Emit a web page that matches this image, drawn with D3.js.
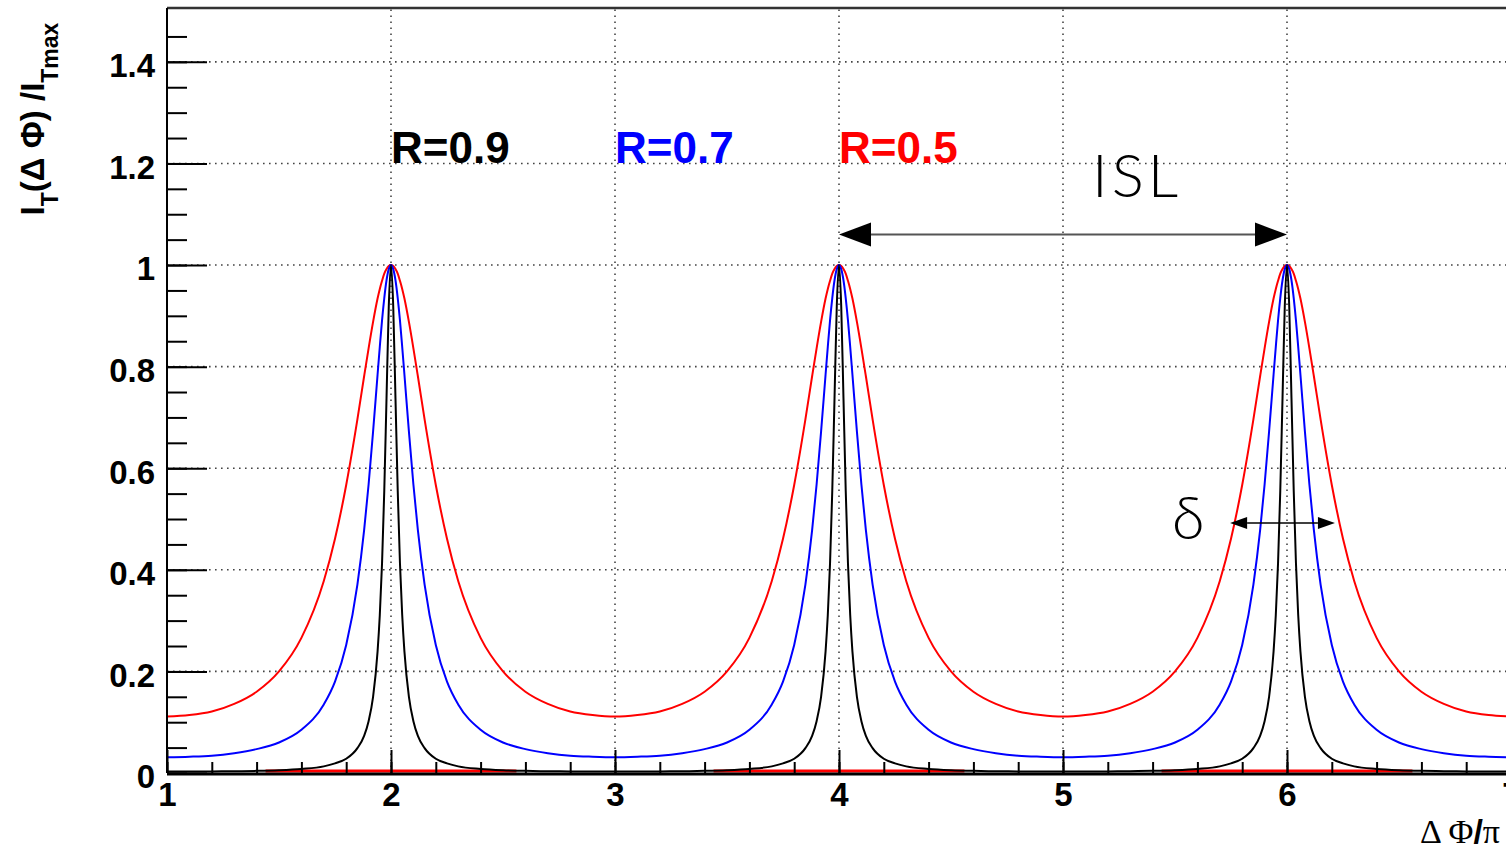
<!DOCTYPE html>
<html>
<head>
<meta charset="utf-8">
<script src="https://cdn.jsdelivr.net/npm/d3@7"></script>
<style>
body { margin: 0; background: #fff; }
svg { display: block; }
</style>
</head>
<body>
<svg id="chart" width="1506" height="853"></svg>
<script>
var width = 1506, height = 853;

// x positions shared by all three curves (Delta Phi / pi)
var xGrid = [
1, 1.1, 1.2, 1.3, 1.4, 1.5, 1.6, 1.7, 1.75, 1.8, 1.85, 1.88, 1.9, 1.92, 1.94, 1.95, 1.96, 1.97, 1.98, 1.99,
2, 2.01, 2.02, 2.03, 2.04, 2.05, 2.06, 2.08, 2.1, 2.12, 2.15, 2.2, 2.25, 2.3, 2.4, 2.5, 2.6, 2.7, 2.8, 2.9,
3, 3.1, 3.2, 3.3, 3.4, 3.5, 3.6, 3.7, 3.75, 3.8, 3.85, 3.88, 3.9, 3.92, 3.94, 3.95, 3.96, 3.97, 3.98, 3.99,
4, 4.01, 4.02, 4.03, 4.04, 4.05, 4.06, 4.08, 4.1, 4.12, 4.15, 4.2, 4.25, 4.3, 4.4, 4.5, 4.6, 4.7, 4.8, 4.9,
5, 5.1, 5.2, 5.3, 5.4, 5.5, 5.6, 5.7, 5.75, 5.8, 5.85, 5.88, 5.9, 5.92, 5.94, 5.95, 5.96, 5.97, 5.98, 5.99,
6, 6.01, 6.02, 6.03, 6.04, 6.05, 6.06, 6.08, 6.1, 6.12, 6.15, 6.2, 6.25, 6.3, 6.4, 6.5, 6.6, 6.7, 6.8, 6.9,
7];

// R = 0.9 (black)
var valuesR09 = [
.0028, .0028, .0031, .0035, .0042, .0055, .008, .013, .019, .028, .049, .073, .102, .150, .239, .311, .413, .556, .738, .918,
1, .918, .738, .556, .413, .311, .239, .150, .102, .073, .049, .028, .019, .013, .008, .0055, .0042, .0035, .0031, .0028,
.0028, .0028, .0031, .0035, .0042, .0055, .008, .013, .019, .028, .049, .073, .102, .150, .239, .311, .413, .556, .738, .918,
1, .918, .738, .556, .413, .311, .239, .150, .102, .073, .049, .028, .019, .013, .008, .0055, .0042, .0035, .0031, .0028,
.0028, .0028, .0031, .0035, .0042, .0055, .008, .013, .019, .028, .049, .073, .102, .150, .239, .311, .413, .556, .738, .918,
1, .918, .738, .556, .413, .311, .239, .150, .102, .073, .049, .028, .019, .013, .008, .0055, .0042, .0035, .0031, .0028,
.0028];

// R = 0.7 (blue)
var valuesR07 = [
.031, .032, .034, .039, .047, .060, .085, .135, .180, .252, .371, .478, .568, .672, .784, .839, .891, .935, .970, .992,
1, .992, .970, .935, .891, .839, .784, .672, .568, .478, .371, .252, .180, .135, .085, .060, .047, .039, .034, .032,
.031, .032, .034, .039, .047, .060, .085, .135, .180, .252, .371, .478, .568, .672, .784, .839, .891, .935, .970, .992,
1, .992, .970, .935, .891, .839, .784, .672, .568, .478, .371, .252, .180, .135, .085, .060, .047, .039, .034, .032,
.031, .032, .034, .039, .047, .060, .085, .135, .180, .252, .371, .478, .568, .672, .784, .839, .891, .935, .970, .992,
1, .992, .970, .935, .891, .839, .784, .672, .568, .478, .371, .252, .180, .135, .085, .060, .047, .039, .034, .032,
.031];

// R = 0.5 (red)
var valuesR05 = [
.111, .114, .121, .136, .160, .200, .266, .378, .461, .567, .696, .781, .836, .888, .934, .953, .969, .983, .992, .998,
1, .998, .992, .983, .969, .953, .934, .888, .836, .781, .696, .567, .461, .378, .266, .200, .160, .136, .121, .114,
.111, .114, .121, .136, .160, .200, .266, .378, .461, .567, .696, .781, .836, .888, .934, .953, .969, .983, .992, .998,
1, .998, .992, .983, .969, .953, .934, .888, .836, .781, .696, .567, .461, .378, .266, .200, .160, .136, .121, .114,
.111, .114, .121, .136, .160, .200, .266, .378, .461, .567, .696, .781, .836, .888, .934, .953, .969, .983, .992, .998,
1, .998, .992, .983, .969, .953, .934, .888, .836, .781, .696, .567, .461, .378, .266, .200, .160, .136, .121, .114,
.111];

var seriesNames = ["R=0.5", "R=0.7", "R=0.9"];
var seriesColors = ["#ff0000", "#0000ff", "#000000"];
var seriesValues = [valuesR05, valuesR07, valuesR09];
var labelXPos = [4, 3, 2];
var labelYPos = 1.2;

// red segments lying on the zero line
var redBaseStart = [1.44, 3.44, 5.44];
var redBaseEnd = [2.56, 4.56, 6.56];

var xMajorTicks = [1, 2, 3, 4, 5, 6, 7];
var xTickLabels = ["1", "2", "3", "4", "5", "6", "7"];
var yMajorTicks = [0, 0.2, 0.4, 0.6, 0.8, 1, 1.2, 1.4];
var yTickLabels = ["0", "0.2", "0.4", "0.6", "0.8", "1", "1.2", "1.4"];

// annotations
var islArrow = {x1: 4, x2: 6, y: 1.06, text: "ISL", textX: 5.13, textY: 1.14};
var deltaArrow = {x1: 5.746, x2: 6.214, y: 0.492, text: "δ", textX: 5.5, textY: 0.46};

var x = d3.scaleLinear().domain([1, 7]).range([167, 1511]);
var y = d3.scaleLinear().domain([0, 1.506]).range([773, 8]);

var svg = d3.select("#chart").attr("viewBox", [0, 0, width, height]);

svg.append("defs").append("clipPath").attr("id", "plotclip")
  .append("rect")
  .attr("x", x(1)).attr("y", y(1.506))
  .attr("width", x(7) - x(1)).attr("height", y(0) - y(1.506));

// dotted grid
var grid = svg.append("g")
  .attr("stroke", "#444")
  .attr("stroke-width", 1.6)
  .attr("stroke-dasharray", "1.6,4.4");

grid.selectAll("line.gx")
  .data(xMajorTicks.slice(1, -1))
  .join("line")
  .attr("class", "gx")
  .attr("x1", d => x(d)).attr("x2", d => x(d))
  .attr("y1", y(0)).attr("y2", y(1.506));

grid.selectAll("line.gy")
  .data(yMajorTicks.slice(1))
  .join("line")
  .attr("class", "gy")
  .attr("x1", x(1)).attr("x2", x(7))
  .attr("y1", d => y(d)).attr("y2", d => y(d));

// red segments at zero
svg.append("g")
  .selectAll("line")
  .data(redBaseStart)
  .join("line")
  .attr("x1", d => x(d))
  .attr("x2", (d, i) => x(redBaseEnd[i]))
  .attr("y1", y(0) - 2).attr("y2", y(0) - 2)
  .attr("stroke", "#ff0000")
  .attr("stroke-width", 3);

// curves
var line = d3.line()
  .x(d => x(d[0]))
  .y(d => y(d[1]))
  .curve(d3.curveMonotoneX);

svg.append("g")
  .attr("clip-path", "url(#plotclip)")
  .selectAll("path")
  .data(seriesValues)
  .join("path")
  .attr("fill", "none")
  .attr("stroke", (d, i) => seriesColors[i])
  .attr("stroke-width", 2)
  .attr("d", vals => line(vals.map((v, i) => [xGrid[i], v])));

// axes
var yAxisMinor = svg.append("g")
  .attr("transform", `translate(${x(1)},0)`)
  .call(d3.axisLeft(y)
    .tickValues(d3.range(0, 1.5, 0.05))
    .tickSize(-20)
    .tickFormat(""));
yAxisMinor.select(".domain").remove();

var yAxis = svg.append("g")
  .attr("transform", `translate(${x(1)},0)`)
  .call(d3.axisLeft(y)
    .tickValues(yMajorTicks)
    .tickSize(-40)
    .tickPadding(12)
    .tickFormat((d, i) => yTickLabels[i]));
yAxis.select(".domain").remove();
yAxis.selectAll("text")
  .attr("dy", "0.45em")
  .attr("font-family", "'Liberation Sans', Arial, sans-serif")
  .attr("font-weight", "bold")
  .attr("font-size", 33)
  .attr("fill", "#000");

var xAxisMinor = svg.append("g")
  .attr("transform", `translate(0,${y(0)})`)
  .call(d3.axisBottom(x)
    .tickValues(d3.range(1, 7.01, 0.2))
    .tickSize(-11)
    .tickFormat(""));
xAxisMinor.select(".domain").remove();

var xAxis = svg.append("g")
  .attr("transform", `translate(0,${y(0)})`)
  .call(d3.axisBottom(x)
    .tickValues(xMajorTicks)
    .tickSize(-23)
    .tickPadding(10)
    .tickFormat((d, i) => xTickLabels[i]));
xAxis.select(".domain").remove();
xAxis.selectAll("text")
  .attr("font-family", "'Liberation Sans', Arial, sans-serif")
  .attr("font-weight", "bold")
  .attr("font-size", 33)
  .attr("fill", "#000");

svg.selectAll(".tick line").attr("stroke", "#000").attr("stroke-width", 2);

// frame
svg.append("line")
  .attr("x1", x(1)).attr("x2", x(7))
  .attr("y1", y(1.506)).attr("y2", y(1.506))
  .attr("stroke", "#333").attr("stroke-width", 2.5);
svg.append("line")
  .attr("x1", x(1)).attr("x2", x(1))
  .attr("y1", y(1.506)).attr("y2", y(0))
  .attr("stroke", "#000").attr("stroke-width", 2);
svg.append("line")
  .attr("x1", x(1)).attr("x2", x(7))
  .attr("y1", y(0) + 1).attr("y2", y(0) + 1)
  .attr("stroke", "#000").attr("stroke-width", 3);

// series labels
svg.append("g")
  .selectAll("text")
  .data(seriesNames)
  .join("text")
  .attr("x", (d, i) => x(labelXPos[i]))
  .attr("y", y(labelYPos))
  .attr("font-family", "'Liberation Sans', Arial, sans-serif")
  .attr("font-weight", "bold")
  .attr("font-size", 44)
  .attr("fill", (d, i) => seriesColors[i])
  .text(d => d);

// arrows
function arrow(a, headLen, headHalf, lineColor, lineWidth) {
  var g = svg.append("g");
  var x1 = x(a.x1), x2 = x(a.x2), yy = y(a.y);
  g.append("line")
    .attr("x1", x1 + headLen).attr("x2", x2 - headLen)
    .attr("y1", yy).attr("y2", yy)
    .attr("stroke", lineColor).attr("stroke-width", lineWidth);
  g.append("path")
    .attr("d", `M${x1},${yy}L${x1 + headLen},${yy - headHalf}L${x1 + headLen},${yy + headHalf}Z`)
    .attr("fill", "#000");
  g.append("path")
    .attr("d", `M${x2},${yy}L${x2 - headLen},${yy - headHalf}L${x2 - headLen},${yy + headHalf}Z`)
    .attr("fill", "#000");
}
arrow(islArrow, 32, 12, "#555", 2);
arrow(deltaArrow, 17, 6, "#000", 1.5);

svg.append("text")
  .attr("x", x(islArrow.textX))
  .attr("y", y(islArrow.textY) + 3)
  .attr("font-family", "Lato, 'DejaVu Sans', sans-serif")
  .attr("font-weight", 300)
  .attr("font-size", 60)
  .attr("letter-spacing", 4)
  .attr("fill", "#000")
  .text(islArrow.text);

svg.append("text")
  .attr("x", x(deltaArrow.textX) - 3)
  .attr("y", y(deltaArrow.textY))
  .attr("font-family", "Lato, 'DejaVu Sans', sans-serif")
  .attr("font-weight", 300)
  .attr("font-size", 60)
  .attr("fill", "#000")
  .text(deltaArrow.text);

// axis titles
var yTitle = svg.append("text")
  .attr("transform", "translate(44,119) rotate(-90)")
  .attr("text-anchor", "middle")
  .attr("font-family", "'Liberation Sans', Arial, sans-serif")
  .attr("font-weight", "bold")
  .attr("font-size", 33)
  .attr("fill", "#000");
yTitle.append("tspan").text("I");
yTitle.append("tspan").attr("font-size", 23).attr("dy", 14).text("T");
yTitle.append("tspan").attr("dy", -14).text("(Δ Φ) /I");
yTitle.append("tspan").attr("font-size", 23).attr("dy", 14).text("Tmax");

var xTitle = svg.append("text")
  .attr("x", 1500)
  .attr("y", 843)
  .attr("text-anchor", "end")
  .attr("font-size", 34)
  .attr("fill", "#000");
xTitle.append("tspan").attr("font-family", "'Liberation Serif', serif").text("Δ Φ");
xTitle.append("tspan").attr("font-family", "'Liberation Sans', Arial, sans-serif").attr("font-weight", "bold").text("/");
xTitle.append("tspan").attr("font-family", "'Liberation Serif', serif").text("π");
</script>
</html>
